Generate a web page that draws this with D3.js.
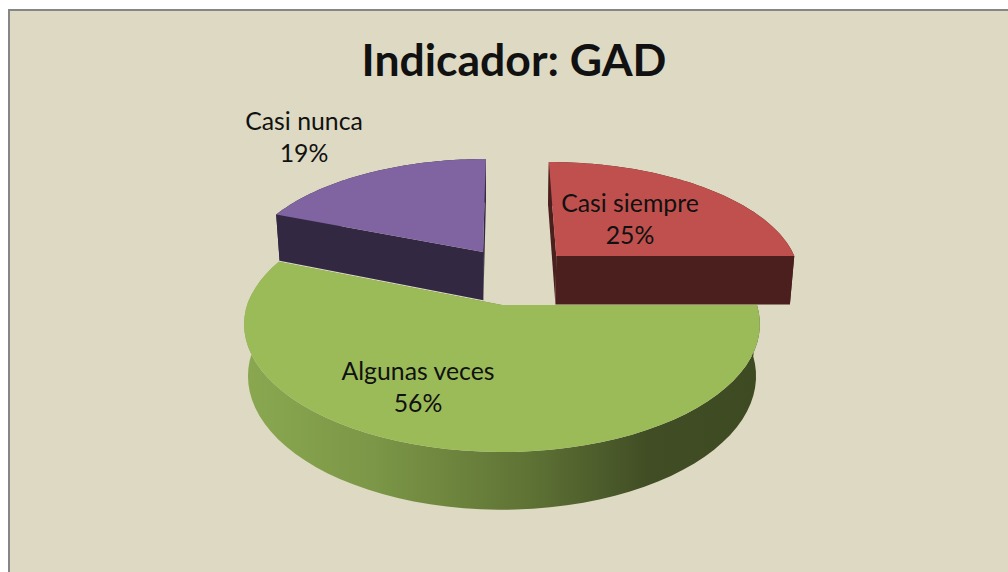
<!DOCTYPE html>
<html>
<head>
<meta charset="utf-8">
<script src="https://cdn.jsdelivr.net/npm/d3@7"></script>
<style>
  html, body { margin: 0; padding: 0; background: #fff; overflow: hidden; }
  text { font-family: Lato, "Open Sans", sans-serif; fill: #111; }
</style>
</head>
<body>
<div id="chart"></div>
<script>
// Chart data
const title = "Indicador: GAD";
const categories = ["Casi siempre", "Algunas veces", "Casi nunca"];
const percents = [25, 56, 19];

const width = 1008;
const height = 572;

// Look of each slice, same order as categories
const topColors = ["#C0504D", "#9BBB59", "#8064A2"];
const wallColors = ["#4B1F1E", "url(#greenWall)", "#332842"];
const exploded = [[0.228, -0.42], [0, 0], [-0.08, -0.457]];
const labelSpots = [[630, 212, 244], [418, 380, 412], [304, 130, 162]];

// Fake 3D: disc coordinates go through a small perspective
const cx = 502, cy = 305, rx = 255, ry = 125;

function project(u, v, low) {
    const persp = v < 0 ? 0.17 : 0.15;
    const s = 1 / (1 - persp * v);
    const x = rx * u * s;
    const y = cy + ry * v * s;
    if (!low) return [cx + x, y];
    // lower rim of the pie
    return [cx + x * 0.985, y + 13 + 38 * s];
}

const svg = d3.select("#chart")
    .append("svg")
    .attr("width", width)
    .attr("height", height)
    .style("display", "block");

const grad = svg.append("defs").append("linearGradient")
    .attr("id", "greenWall")
    .attr("gradientUnits", "userSpaceOnUse")
    .attr("x1", 243).attr("x2", 760).attr("y1", 0).attr("y2", 0);
[[0, "#8AA850"], [0.25, "#7C9747"], [0.55, "#5F7335"], [0.78, "#414E25"], [1, "#3D4A22"]]
    .forEach(d => grad.append("stop").attr("offset", d[0]).attr("stop-color", d[1]));

// Chart area with its grey frame
svg.append("rect")
    .attr("x", 9).attr("y", 10)
    .attr("width", width + 20).attr("height", height + 20)
    .attr("fill", "#DDD9C3")
    .attr("stroke", "#868686")
    .attr("stroke-width", 2);

const pie = d3.pie().sort(null).value(d => d);
const slices = pie(percents).map((d, i) => ({
    start: d.startAngle,
    end: d.endAngle,
    off: exploded[i],
    top: topColors[i],
    wall: wallColors[i]
}));

const line = d3.line();

function rim(d, low) {
    const steps = d3.range(0, 61).map(k => d.start + (d.end - d.start) * k / 60);
    return steps.map(a => project(Math.sin(a) + d.off[0], -Math.cos(a) + d.off[1], low));
}

function drawSlice(d) {
    const up = rim(d, false);
    const down = rim(d, true);
    const tipUp = project(d.off[0], d.off[1], false);
    const tipDown = project(d.off[0], d.off[1], true);

    // cut faces
    [0, up.length - 1].forEach(k => {
        svg.append("path")
            .attr("d", line([tipUp, up[k], down[k], tipDown]) + "Z")
            .attr("fill", d.wall);
    });
    // outer wall
    svg.append("path")
        .attr("d", line(up.concat(down.slice().reverse())) + "Z")
        .attr("fill", d.wall);
    // top face
    svg.append("path")
        .attr("d", line([tipUp].concat(up)) + "Z")
        .attr("fill", d.top);
}

// Back slices first, the green one covers their feet
drawSlice(slices[0]);
drawSlice(slices[2]);
drawSlice(slices[1]);

// Title
svg.append("text")
    .attr("x", 514)
    .attr("y", 76)
    .attr("text-anchor", "middle")
    .style("font-size", "44.5px")
    .style("font-weight", 700)
    .text(title);

// Slice labels
categories.forEach((c, i) => {
    svg.append("text")
        .attr("x", labelSpots[i][0])
        .attr("y", labelSpots[i][1])
        .attr("text-anchor", "middle")
        .style("font-size", "24.8px")
        .text(c);
    svg.append("text")
        .attr("x", labelSpots[i][0])
        .attr("y", labelSpots[i][2])
        .attr("text-anchor", "middle")
        .style("font-size", "24.8px")
        .text(percents[i] + "%");
});
</script>
</body>
</html>
